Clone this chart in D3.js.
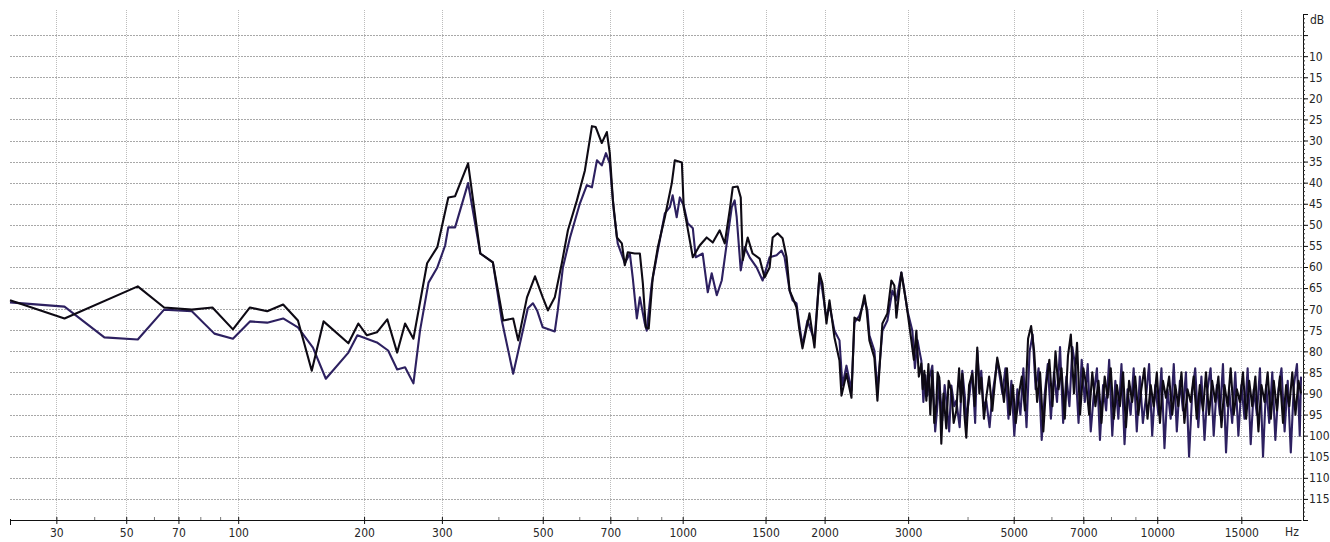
<!DOCTYPE html>
<html><head><meta charset="utf-8">
<script src="https://cdn.jsdelivr.net/npm/d3@7"></script>
<style>
body{margin:0;background:#fff}
text{font-family:"Liberation Sans Narrow","DejaVu Sans Condensed","Liberation Sans",sans-serif;font-size:12px;fill:#262626}
</style>
</head><body><svg id="c" width="1330" height="542"></svg>
<script>
// ---------- data ----------
const freqTicks = [30,50,70,100,200,300,500,700,1000,1500,2000,3000,5000,7000,10000,15000];
const freqMinor = [40,60,80,90,400,600,800,900,4000,6000,8000,9000];
const dbLabels = [-10,-15,-20,-25,-30,-35,-40,-45,-50,-55,-60,-65,-70,-75,-80,-85,-90,-95,-100,-105,-110,-115];
const dbGrid = [-5,-10,-15,-20,-25,-30,-35,-40,-45,-50,-55,-60,-65,-70,-75,-80,-85,-90,-95,-100,-105,-110,-115];

// series 1 (black), 20 Hz - 4.7 kHz : [Hz, dB]
const blackLow = [
[20,-67.9],[32,-72.2],[54,-64.6],[64,-69.6],[76,-70.1],[86,-69.6],[97,-74.8],[107,-69.6],[118,-70.5],[129,-68.9],
[140,-72.7],[151,-84.6],[161,-72.9],[184,-78.1],[194,-73.4],[203,-76.2],[214,-75.5],[226,-72.4],[238,-80.3],[248,-73.4],
[259,-77.0],[278,-59.1],[293,-55.3],[310,-43.5],[321,-43.2],[343,-35.4],[365,-56.8],[389,-58.9],[410,-72.7],[431,-72.2],
[442,-77.4],[462,-67.2],[481,-62.2],[500,-67.2],[513,-70.3],[531,-67.2],[550,-59.1],[567,-51.3],[593,-44.2],[617,-37.1],
[639,-26.6],[651,-26.8],[671,-30.6],[688,-28.0],[698,-33.0],[709,-44.2],[723,-53.0],[741,-54.4],[752,-59.6],[763,-56.5],
[790,-56.8],[810,-56.8],[822,-63.9],[834,-74.3],[846,-74.6],[863,-62.5],[885,-55.3],[916,-48.2],[948,-40.1],[962,-34.7],
[996,-35.2],[1005,-45.8],[1020,-49.6],[1051,-57.7],[1087,-54.9],[1125,-53.0],[1159,-54.2],[1199,-51.3],[1229,-54.4],[1259,-46.6],
[1278,-41.1],[1309,-40.9],[1329,-43.5],[1342,-58.4],[1375,-53.0],[1408,-56.8],[1457,-58.0],[1493,-62.5],[1530,-60.1],[1553,-53.0],
[1591,-52.0],[1630,-53.2],[1662,-57.7],[1687,-65.6],[1711,-67.2],[1744,-69.6],[1770,-75.1],[1796,-79.3],[1858,-71.0],[1904,-79.1],
[1951,-61.5],[1979,-63.9],[2018,-73.4],[2048,-67.9],[2098,-76.7],[2150,-82.2],[2171,-90.5],[2224,-85.3],[2279,-91.0],[2312,-72.0],
[2369,-72.7],[2427,-66.7],[2450,-69.6],[2486,-77.4],[2547,-81.5],[2585,-91.7],[2648,-73.4],[2713,-71.0],[2766,-63.2],[2806,-64.4],
[2834,-72.0],[2903,-61.3],[2974,-68.6],[3047,-77.4],[3085,-82],[3122,-75.1],[3160,-86],[3198,-82.9],[3220,-89],[3245,-84.6],
[3277,-91.7],[3310,-83],[3340,-95],[3373,-84.6],[3405,-97],[3439,-92.4],[3460,-85],[3489,-86.2],[3523,-101.9],[3560,-90],
[3609,-98.3],[3650,-87],[3698,-89.3],[3740,-97],[3788,-94.1],[3840,-84],[3870,-92],[3900,-85.3],[3940,-95],[3976,-100.5],
[4030,-88],[4093,-85.3],[4140,-93],[4193,-79.1],[4235,-90],[4275,-86.2],[4330,-96],[4379,-91.0],[4440,-86],[4508,-94.1],
[4560,-88],[4618,-81.5]
];

// series 2 (purple), 20 Hz - 4.7 kHz : [Hz, dB]
const purpleLow = [
[20,-68.4],[32,-69.4],[43,-76.7],[54,-77.2],[64,-70.1],[76,-70.5],[87,-75.8],[97,-77.0],[107,-72.9],[118,-73.2],
[129,-72.2],[140,-74.3],[152,-79.1],[163,-86.5],[184,-80.3],[193,-76.2],[214,-77.9],[227,-79.8],[238,-84.3],[248,-83.8],
[259,-87.6],[268,-75.1],[280,-63.7],[293,-60.1],[305,-54.9],[310,-50.6],[321,-50.6],[343,-40.1],[365,-56.8],[389,-58.9],
[407,-72.7],[431,-85.3],[464,-69.8],[476,-68.6],[486,-70.3],[500,-74.3],[531,-75.3],[539,-70.3],[553,-60.1],[573,-53.0],
[602,-44.9],[623,-40.6],[639,-41.1],[655,-34.7],[671,-35.9],[685,-33.0],[698,-35.4],[712,-46.6],[726,-54.4],[752,-59.1],
[771,-56.8],[782,-62.5],[798,-72.2],[810,-67.2],[830,-73.4],[838,-75.1],[859,-63.9],[885,-56.1],[916,-47.3],[939,-45.8],
[952,-43.0],[971,-48.2],[986,-43.5],[1005,-45.4],[1025,-49.6],[1051,-50.8],[1066,-57.7],[1103,-56.8],[1131,-66.0],[1153,-61.5],
[1182,-66.7],[1211,-63.2],[1241,-54.4],[1272,-45.8],[1290,-44.2],[1303,-48.2],[1329,-60.8],[1355,-55.3],[1388,-57.7],[1436,-60.1],
[1479,-63.2],[1530,-57.7],[1583,-57.2],[1622,-56.1],[1646,-57.7],[1687,-65.6],[1711,-67.9],[1744,-68.6],[1770,-73.9],[1796,-78.6],
[1840,-72.7],[1904,-77.4],[1951,-62.0],[1979,-65.6],[2018,-72.2],[2048,-69.1],[2098,-75.1],[2150,-77.4],[2181,-88.1],[2224,-83.4],
[2279,-89.3],[2312,-73.2],[2369,-71.5],[2427,-67.9],[2462,-70.3],[2486,-76.2],[2547,-79.8],[2585,-89.3],[2648,-75.1],[2713,-72.7],
[2779,-65.6],[2834,-67.9],[2903,-61.3],[2946,-65.6],[2989,-70.3],[3062,-75.1],[3100,-84],[3140,-77.4],[3170,-80],[3198,-82.2],
[3230,-92],[3260,-85.7],[3292,-90.5],[3330,-86],[3373,-83.4],[3420,-99],[3450,-94.1],[3489,-86.9],[3540,-96.4],[3580,-88],
[3609,-91.7],[3660,-99],[3698,-88.1],[3750,-93],[3788,-91.7],[3850,-98],[3900,-84.6],[3950,-91],[3976,-96.4],[4040,-90],
[4093,-84.6],[4150,-97],[4193,-79.8],[4240,-88],[4275,-84.6],[4320,-93],[4379,-91.7],[4450,-98],[4508,-90.5],[4570,-86],
[4618,-82.2]
];

// high-frequency part (noise floor)
const hfFreqBlack = [4700,4770,4840,4910,4980,5050,5130,5200,5280,5360,5440,5520,5600,5680,5770,5850,5940,6030,6120,6210,6300,6400,6500,6590,6690,6790,6890,7000,
7100,7200,7310,7420,7530,7640,7760,7870,7990,8110,8230,8350,8480,8600,8730,8860,8990,9130,9260,9400,9540,9690,9830,9980,
10130,10280,10430,10590,10750,10910,11070,11240,11400,11570,11750,11920,12100,12280,12470,12650,12840,13030,13230,13430,13630,13830,
14040,14250,14460,14680,14900,15120,15350,15580,15810,16050,16290,16530,16780,17030,17290,17540,17810,18070,18340,18620,18900,19180,19470,19760,20000];
const hfBlack = [-86,-92,-84,-95,-88,-97,-90,-86,-94,-77,-74,-80,-92,-85,-99,-88,-82,-93,-80,-89,-84,-96,-81,-76,-90,-78,-95,-84,
-88,-95,-85,-93,-87,-97,-86,-91,-84,-96,-88,-93,-85,-98,-87,-92,-86,-95,-89,-84,
-96,-88,-93,-85,-97,-87,-91,-86,-95,-88,-93,-85,-97,-89,-92,-86,-96,-88,-94,-85,
-95,-87,-92,-86,-98,-88,-93,-84,-95,-89,-92,-85,-96,-87,-93,-86,-99,-88,-92,-85,
-96,-87,-94,-86,-97,-88,-93,-85,-95,-87,-90];
const hfFreqPurple = [4735,4805,4875,4945,5015,5090,5165,5240,5320,5400,5480,5560,5640,5725,5810,5895,5985,6075,6165,6255,6350,6450,6545,6640,6740,6840,6945,7050,
7150,7255,7365,7475,7585,7700,7815,7930,8050,8170,8290,8415,8540,8665,8795,8925,9060,9195,9330,9470,9615,9760,9905,
10055,10205,10355,10510,10670,10830,10990,11155,11320,11485,11660,11835,12010,12190,12375,12560,12745,12935,13130,13330,13530,13730,13935,
14145,14355,14570,14790,15010,15235,15465,15695,15930,16170,16410,16655,16905,17160,17415,17675,17940,18205,18480,18760,19040,19325,19615,19880,20000];
const hfPurple = [-90,-84,-96,-87,-100,-89,-95,-84,-98,-80,-76,-89,-84,-101,-90,-83,-96,-85,-92,-79,-97,-86,-93,-79,-84,-97,-82,-92,
-83,-99,-90,-84,-101,-88,-94,-82,-100,-87,-96,-83,-102,-89,-95,-84,-99,-86,-97,-91,
-83,-100,-88,-95,-84,-103,-89,-96,-83,-99,-87,-94,-85,-105,-90,-84,-98,-86,-101,-89,
-84,-100,-88,-95,-83,-104,-89,-97,-85,-100,-88,-96,-84,-102,-89,-95,-84,-105,-88,-97,
-85,-101,-89,-84,-99,-87,-104,-88,-83,-100,-86];

// ---------- drawing ----------
const OFF = 20; // the analyser's frequency axis is log(f + 20)
const L = 10, R = 1301, T = 14, B = 520;
const xs = d3.scaleLog().domain([20 + OFF, 20000 + OFF]).range([L, R]);
const x = f => xs(f + OFF);
const y = d3.scaleLinear().domain([0, -120]).range([T, B]);

const svg = d3.select("#c");
svg.append("rect").attr("width",1330).attr("height",542).attr("fill","#fff");

// grid
const g = svg.append("g");
g.selectAll(".hg").data(dbGrid).join("line")
  .attr("x1", L).attr("x2", R + 2).attr("y1", d => Math.round(y(d)) + 0.5).attr("y2", d => Math.round(y(d)) + 0.5)
  .attr("stroke", "#a8a8a8").attr("stroke-dasharray", "2,1").attr("stroke-width", 1);
g.selectAll(".vg").data(freqTicks).join("line")
  .attr("x1", d => Math.round(x(d)) + 0.5).attr("x2", d => Math.round(x(d)) + 0.5).attr("y1", 10).attr("y2", B)
  .attr("stroke", "#bcbcbc").attr("stroke-dasharray", "1,1").attr("stroke-width", 1);

// series
const line = d3.line().x(d => x(d[0])).y(d => y(d[1]));
const purple = purpleLow.concat(hfFreqPurple.map((f, i) => [f, hfPurple[i]]));
const black = blackLow.concat(hfFreqBlack.map((f, i) => [f, hfBlack[i]]));
svg.append("path").datum(purple).attr("d", line).attr("fill","none")
  .attr("stroke","#2d2060").attr("stroke-width",2.1).attr("stroke-linejoin","round");
svg.append("path").datum(black).attr("d", line).attr("fill","none")
  .attr("stroke","#0e0a14").attr("stroke-width",2.1).attr("stroke-linejoin","round");

// bottom axis
const xAxis = d3.axisBottom(xs).tickValues(freqTicks.map(f => f + OFF))
  .tickFormat(d => Math.round(d - OFF)).tickSizeInner(4).tickSizeOuter(0).tickPadding(4);
const gx = svg.append("g").attr("transform", `translate(0,${B})`).call(xAxis);
gx.select(".domain").attr("stroke","#111");
gx.selectAll(".tick line").attr("stroke","#111").attr("y1",-3);
const minorX = d3.axisBottom(xs).tickValues(freqMinor.map(f => f + OFF)).tickFormat("").tickSizeInner(-3).tickSizeOuter(0);
const gmx = svg.append("g").attr("transform", `translate(0,${B})`).call(minorX);
gmx.select(".domain").remove();
gmx.selectAll(".tick line").attr("stroke","#777");
svg.append("line").attr("x1",L+0.5).attr("x2",L+0.5).attr("y1",B-1).attr("y2",B+5).attr("stroke","#111");

// right axis
const minorY = d3.axisRight(y).tickValues(d3.range(0, -121, -1)).tickFormat("").tickSizeInner(2).tickSizeOuter(0);
const gmy = svg.append("g").attr("transform", `translate(${R + 2},0)`).call(minorY);
gmy.select(".domain").attr("stroke","#111");
gmy.selectAll(".tick line").attr("stroke","#333");
const yAxis = d3.axisRight(y).tickValues(d3.range(0, -121, -5))
  .tickFormat(d => dbLabels.includes(d) ? String(-d) : "").tickSizeInner(5).tickSizeOuter(0).tickPadding(1);
const gy = svg.append("g").attr("transform", `translate(${R + 2},0)`).call(yAxis);
gy.select(".domain").remove();
gy.selectAll(".tick line").attr("stroke","#111");

svg.append("text").attr("x", R + 9).attr("y", 24).text("dB");
svg.append("text").attr("x", 1292).attr("y", B + 16).attr("text-anchor","middle").text("Hz");
</script>
</body></html>
